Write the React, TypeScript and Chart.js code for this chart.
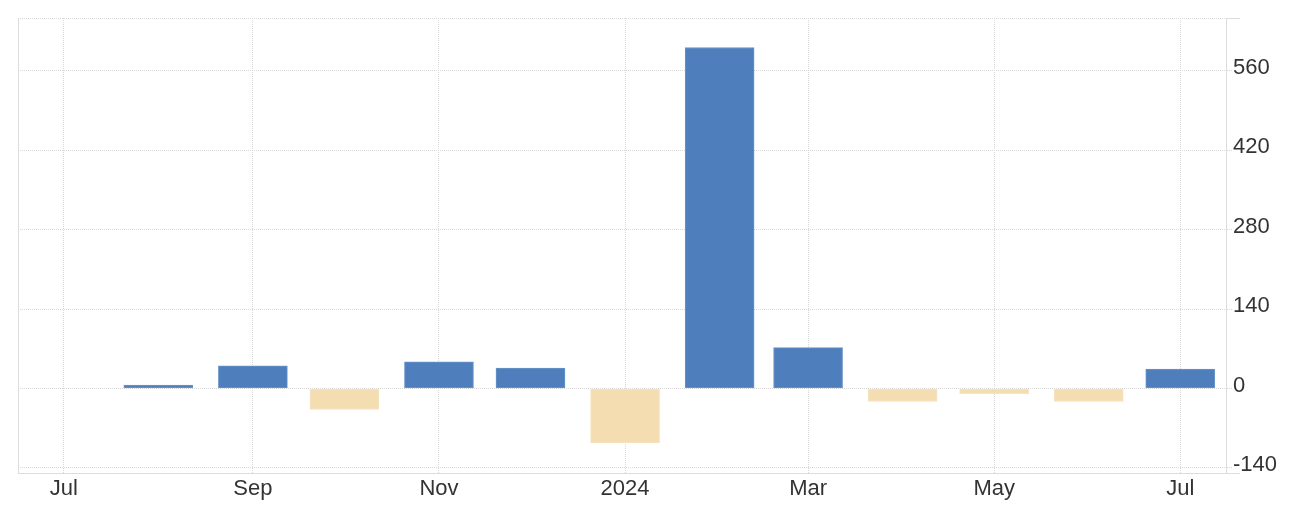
import React, { useEffect, useRef } from "react";
import { Chart, registerables } from "chart.js";

Chart.register(...registerables);

const months = [
  "2023-08", "2023-09", "2023-10", "2023-11", "2023-12", "2024-01",
  "2024-02", "2024-03", "2024-04", "2024-05", "2024-06", "2024-07",
];
const values = [6, 40, -37, 47, 36, -96, 601, 72, -23, -9, -23, 34];
const tickMonths = ["2023-07", "2023-09", "2023-11", "2024-01", "2024-03", "2024-05", "2024-07"];
const tickLabels = ["Jul", "Sep", "Nov", "2024", "Mar", "May", "Jul"];
const yTicks = [-140, 0, 140, 280, 420, 560];
const xRange = ["2023-06-16", "2024-07-16"];
const yRange = [-149, 653];

const DAY = 86400000;
const ORIGIN = Date.UTC(2023, 6, 1);
function dayOf(s: string): number {
  const [y, m, d] = s.split("-").map(Number);
  return (Date.UTC(y, m - 1, d || 1) - ORIGIN) / DAY;
}

const BLUE = "#4e7fbc";
const WHEAT = "#f5ddb2";
const GRID = "#d8d8d8";
const FRAME = "#dcdcdc";
const FONT = "'Liberation Sans', Arial, Helvetica, sans-serif";

const framePlugin = {
  id: "frame",
  beforeDatasetsDraw(chart: any) {
    const { ctx, chartArea } = chart;
    const { left, right, top, bottom } = chartArea;
    ctx.save();
    ctx.lineWidth = 1;
    ctx.strokeStyle = FRAME;
    ctx.setLineDash([]);
    ctx.beginPath();
    ctx.moveTo(left + 0.5, top);
    ctx.lineTo(left + 0.5, bottom);
    ctx.moveTo(right, top + 0.5);
    ctx.lineTo(right + 14, top + 0.5);
    ctx.moveTo(right, bottom + 0.5);
    ctx.lineTo(right + 14, bottom + 0.5);
    ctx.stroke();
    ctx.strokeStyle = GRID;
    ctx.setLineDash([1, 1]);
    ctx.beginPath();
    ctx.moveTo(left, top + 0.5);
    ctx.lineTo(right, top + 0.5);
    ctx.stroke();
    ctx.restore();
  },
};

export default function App() {
  const ref = useRef<HTMLCanvasElement | null>(null);

  useEffect(() => {
    document.body.style.margin = "0";
    const canvas = ref.current;
    if (!canvas) return;
    const tickDays = tickMonths.map(dayOf);
    const chart = new Chart(canvas, {
      type: "bar",
      data: {
        datasets: [
          {
            data: months.map((m, i) => ({ x: dayOf(m), y: values[i] })),
            backgroundColor: values.map((v) => (v >= 0 ? BLUE : WHEAT)),
            borderColor: values.map((v) => (v >= 0 ? "#6b95cb" : "#f7e3c0")),
            borderWidth: 1,
            borderSkipped: false,
            barThickness: 69,
          } as any,
        ],
      },
      options: {
        animation: false,
        responsive: false,
        maintainAspectRatio: false,
        layout: { padding: { left: 18, top: 18, right: 0, bottom: 0 } },
        plugins: { legend: { display: false }, tooltip: { enabled: false } },
        scales: {
          x: {
            type: "linear",
            min: dayOf(xRange[0]),
            max: dayOf(xRange[1]),
            offset: false,
            afterBuildTicks: (scale: any) => {
              scale.ticks = tickDays.map((v) => ({ value: v }));
            },
            afterFit: (scale: any) => {
              scale.height = 45;
            },
            ticks: {
              autoSkip: false,
              maxRotation: 0,
              padding: 3,
              color: "#333",
              font: { family: FONT, size: 22 },
              callback: (v: any) => {
                const i = tickDays.indexOf(Number(v));
                return i >= 0 ? tickLabels[i] : null;
              },
            },
            grid: {
              offset: false,
              color: GRID,
              drawTicks: false,
            } as any,
            border: { display: true, color: FRAME, dash: [1, 1] } as any,
          },
          y: {
            position: "right",
            min: yRange[0],
            max: yRange[1],
            afterBuildTicks: (scale: any) => {
              scale.ticks = yTicks.map((v) => ({ value: v }));
            },
            afterFit: (scale: any) => {
              scale.width = 66;
            },
            ticks: {
              padding: 1,
              labelOffset: -3,
              color: "#333",
              font: { family: FONT, size: 22 },
            },
            grid: {
              color: GRID,
              tickLength: 6,
              tickBorderDash: [1, 1],
            } as any,
            border: { display: true, color: FRAME, dash: [1, 1] } as any,
          },
        },
      },
      plugins: [framePlugin],
    } as any);
    return () => chart.destroy();
  }, []);

  return (
    <div style={{ width: 1292, height: 518 }}>
      <canvas ref={ref} width={1292} height={518} style={{ display: "block" }} />
    </div>
  );
}
